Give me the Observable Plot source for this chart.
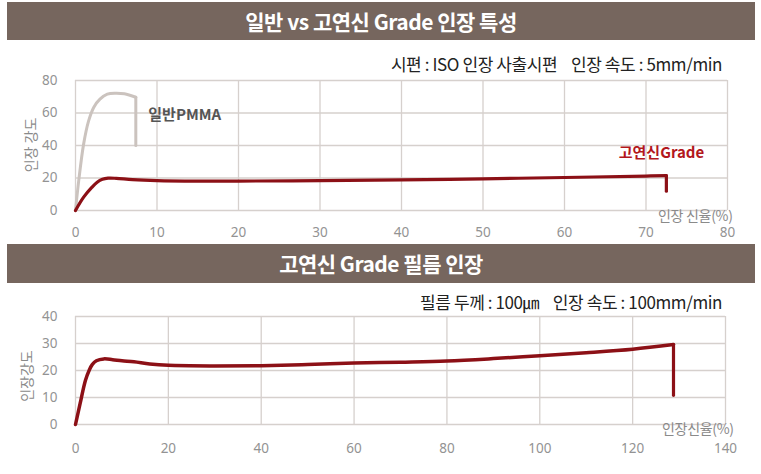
<!DOCTYPE html>
<html>
<head>
<meta charset="utf-8">
<script src="https://cdn.jsdelivr.net/npm/d3@7"></script>
<script src="https://cdn.jsdelivr.net/npm/@observablehq/plot@0.6"></script>
<style>
  html, body { margin: 0; padding: 0; background: #fff; }
  #root { position: relative; width: 761px; height: 474px; overflow: hidden; background: #fff; font-family: "Noto Sans CJK KR", "Noto Sans", sans-serif; }
  .hdr { position: absolute; left: 7px; width: 748px; background: #76665e; color: #fff; font-weight: bold; font-size: 21px; text-align: center; letter-spacing: -0.5px; z-index: 2; }
  .sub { position: absolute; right: 39px; font-size: 17px; color: #222; letter-spacing: -0.4px; white-space: pre; z-index: 2; line-height: 20px; }
  .plot { position: absolute; left: 0; z-index: 1; }
  .lbl { position: absolute; font-size: 14px; color: #8a8a8a; white-space: pre; z-index: 2; line-height: 14px; letter-spacing: -0.3px; }
  .ylbl { position: absolute; font-size: 14px; color: #8a8a8a; white-space: pre; transform: translate(-50%, -50%) rotate(-90deg); z-index: 2; line-height: 16px; }
</style>
</head>
<body>
<div id="root">
  <div class="hdr" style="top:2px;height:38px;line-height:38px;">일반 vs 고연신 Grade 인장 특성</div>
  <div class="sub" style="top:54px;">시편 : ISO 인장 사출시편    인장 속도 : 5mm/min</div>
  <div class="hdr" style="top:244px;height:39px;line-height:39px;">고연신 Grade 필름 인장</div>
  <div class="sub" style="top:292px;">필름 두께 : 100㎛    인장 속도 : 100mm/min</div>
  <div id="p1" class="plot" style="top:70px;"></div>
  <div id="p2" class="plot" style="top:306px;"></div>
  <div class="ylbl" style="left:30px;top:145px;">인장 강도</div>
  <div class="ylbl" style="left:26px;top:376px;">인장강도</div>
  <div class="lbl" style="left:658px;top:208px;">인장 신율(%)</div>
  <div class="lbl" style="left:662px;top:421px;">인장신율(%)</div>
</div>
<script>
// ---- Panel 1 data: 일반 vs 고연신 Grade (사출시편, 5mm/min)
const xTicks1 = [0, 10, 20, 30, 40, 50, 60, 70, 80];
const yTicks1 = [0, 20, 40, 60, 80];
const pmmaStrain = [0, 0.4, 1.0, 1.6, 2.25, 3.0, 3.9, 4.9, 6.0, 7.4, 7.4];
const pmmaStress = [0, 18.5, 41, 55, 63.6, 68.5, 71.6, 72.2, 71.8, 69.7, 40];
const grade1Strain = [0, 1.0, 2.0, 2.66, 3.3, 4.0, 5.0, 7.0, 10, 15, 20, 30, 40, 50, 60, 70, 72.5, 72.5];
const grade1Stress = [0, 8.2, 14.2, 17.4, 19.2, 19.9, 19.8, 19.0, 18.4, 18.1, 18.1, 18.4, 18.8, 19.5, 20.3, 21.2, 21.5, 11.9];
const labels1Text = ["일반PMMA", "고연신Grade"];
const labels1X = [13.4, 71.9];
const labels1Y = [58.5, 35];

// ---- Panel 2 data: 고연신 Grade 필름 (100㎛, 100mm/min)
const xTicks2 = [0, 20, 40, 60, 80, 100, 120, 140];
const yTicks2 = [0, 10, 20, 30, 40];
const filmStrain = [0, 1.0, 2.15, 3.0, 3.6, 4.5, 6.1, 8, 10, 12.6, 16, 20, 30, 40, 50, 60, 70, 80, 90, 100, 110, 120, 128.8, 128.8];
const filmStress = [0, 7.8, 16.4, 20.3, 22.2, 23.6, 24.3, 24.0, 23.6, 23.2, 22.4, 21.9, 21.7, 21.8, 22.2, 22.8, 23.1, 23.5, 24.4, 25.5, 26.6, 27.9, 29.6, 10.8];

const GRID = "#d6d0cd";
const RED = "#8c1016";
const PMMA = "#cbc3be";

function rows(xs, ys) { return xs.map((x, i) => ({x, y: ys[i]})); }
function body(r) { return r.slice(0, r.length - 1); }
function drop(r) { return r.slice(r.length - 2); }

const style = {fontFamily: "'Noto Sans', 'Noto Sans CJK KR', sans-serif", fontSize: "13.5px", color: "#939393", background: "transparent", overflow: "visible"};

const pmma = rows(pmmaStrain, pmmaStress);
const grade1 = rows(grade1Strain, grade1Stress);
const labels1 = labels1Text.map((t, i) => ({t, x: labels1X[i], y: labels1Y[i]}));

const p1 = Plot.plot({
  width: 761, height: 175,
  marginLeft: 75, marginRight: 34, marginTop: 10, marginBottom: 35,
  x: {domain: [0, 80]}, y: {domain: [0, 80]},
  style,
  marks: [
    Plot.gridX(xTicks1, {stroke: GRID, strokeOpacity: 1, strokeWidth: 1.3}),
    Plot.gridY(yTicks1, {stroke: GRID, strokeOpacity: 1, strokeWidth: 1.3}),
    Plot.axisX(xTicks1, {tickSize: 0, tickPadding: 17, label: null, fontSize: 13.5}),
    Plot.axisY(yTicks1, {tickSize: 0, tickPadding: 18, label: null, fontSize: 13.5}),
    Plot.line(body(pmma), {x: "x", y: "y", stroke: PMMA, strokeWidth: 3, curve: "catmull-rom"}),
    Plot.line(drop(pmma), {x: "x", y: "y", stroke: PMMA, strokeWidth: 3}),
    Plot.line(body(grade1), {x: "x", y: "y", stroke: RED, strokeWidth: 3.2, curve: "catmull-rom"}),
    Plot.line(drop(grade1), {x: "x", y: "y", stroke: RED, strokeWidth: 3.2}),
    Plot.text(labels1.slice(0, 1), {x: "x", y: "y", text: "t", fill: "#555", fontSize: 15, fontWeight: "bold", fontFamily: "'Noto Sans CJK KR', sans-serif", letterSpacing: "-1.2px"}),
    Plot.text(labels1.slice(1), {x: "x", y: "y", text: "t", fill: "#b3171c", fontSize: 15, fontWeight: "bold", fontFamily: "'Noto Sans CJK KR', sans-serif", letterSpacing: "-1.2px"})
  ]
});
document.getElementById("p1").appendChild(p1);

const film = rows(filmStrain, filmStress);
const p2 = Plot.plot({
  width: 761, height: 162,
  marginLeft: 75, marginRight: 36, marginTop: 10, marginBottom: 44,
  x: {domain: [0, 140]}, y: {domain: [0, 40]},
  style,
  marks: [
    Plot.gridX(xTicks2, {stroke: GRID, strokeOpacity: 1, strokeWidth: 1.3}),
    Plot.gridY(yTicks2, {stroke: GRID, strokeOpacity: 1, strokeWidth: 1.3}),
    Plot.axisX(xTicks2, {tickSize: 0, tickPadding: 19, label: null, fontSize: 13.5}),
    Plot.axisY(yTicks2, {tickSize: 0, tickPadding: 18, label: null, fontSize: 13.5}),
    Plot.line(body(film), {x: "x", y: "y", stroke: RED, strokeWidth: 3.5, curve: "catmull-rom"}),
    Plot.line(drop(film), {x: "x", y: "y", stroke: RED, strokeWidth: 3.2})
  ]
});
document.getElementById("p2").appendChild(p2);
</script>
</body>
</html>
